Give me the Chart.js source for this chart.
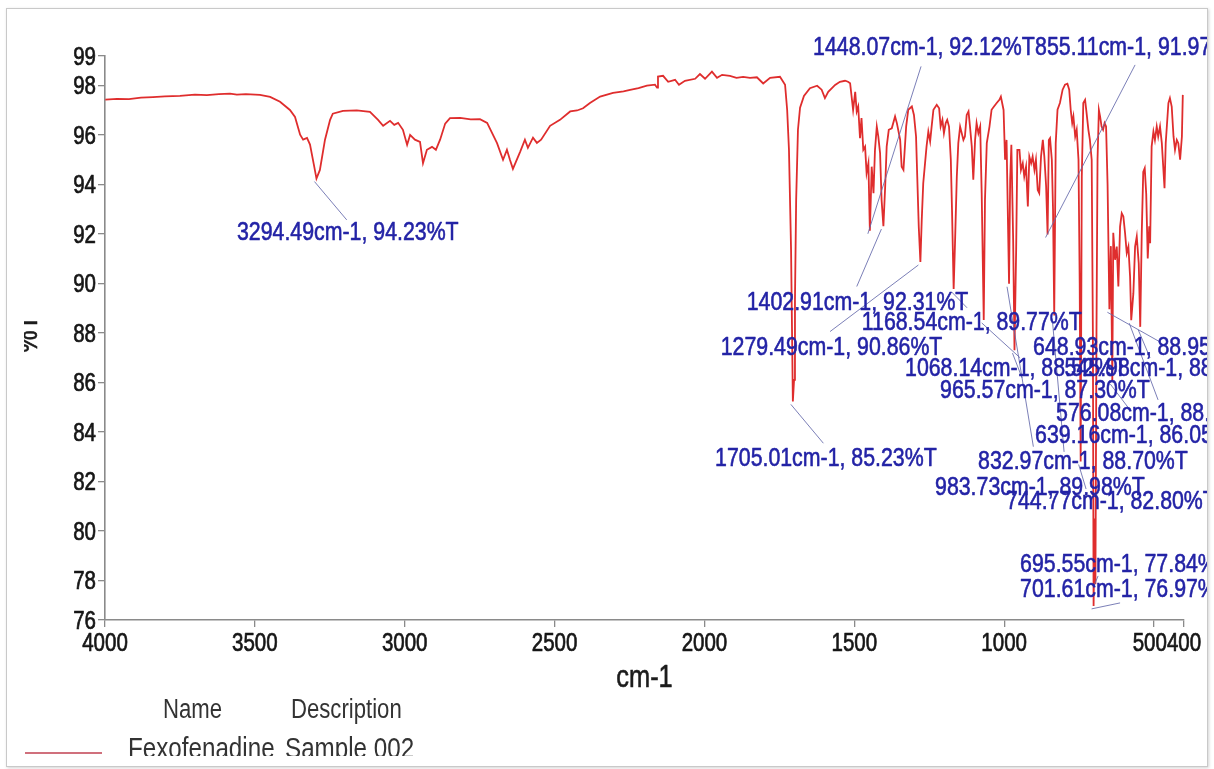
<!DOCTYPE html>
<html>
<head>
<meta charset="utf-8">
<title>Fexofenadine FTIR</title>
<script src="https://cdn.jsdelivr.net/npm/chart.js@4.4.1/dist/chart.umd.min.js"></script>
<style>
  html, body { margin: 0; padding: 0; background: #fff; width: 1214px; height: 769px; overflow: hidden; }
  #frame { position: absolute; left: 6px; top: 8px; width: 1200px; height: 757px;
           border: 1px solid #c9c9c9; box-shadow: 1px 1px 3px rgba(0,0,0,0.18); background: #fff; }
  #clip  { position: absolute; left: 0; top: 0; width: 1200px; height: 747px; overflow: hidden; }
  #plot  { position: absolute; left: -7px; top: -9px; }
</style>
</head>
<body>
<div id="frame"><div id="clip"><canvas id="plot" width="1214" height="769"></canvas></div></div>
<script>
// ---- spectrum: [wavenumber (cm-1), transmittance (%T)] ----
const highRegion = [
  [3999, 97.42], [3960, 97.45], [3920, 97.44], [3880, 97.50], [3840, 97.52], [3800, 97.55],
  [3750, 97.57], [3700, 97.62], [3660, 97.60], [3620, 97.64], [3583, 97.66], [3560, 97.62],
  [3530, 97.64], [3483, 97.61], [3449, 97.53], [3416, 97.33], [3383, 97.00], [3366, 96.72],
  [3349, 96.00], [3339, 95.80], [3326, 95.87], [3316, 95.60], [3303, 94.78], [3283, 94.58],
  [3266, 95.80], [3249, 96.60], [3240, 96.85], [3206, 96.96], [3160, 96.98], [3116, 96.92],
  [3089, 96.60], [3072, 96.36], [3049, 96.56], [3035, 96.40], [3022, 96.48], [3006, 96.20],
  [2992, 95.59], [2982, 95.99], [2966, 95.80], [2949, 95.71], [2939, 94.85], [2926, 95.39],
  [2909, 95.51], [2896, 95.39], [2882, 95.80], [2865, 96.45], [2849, 96.67], [2815, 96.68],
  [2780, 96.62], [2749, 96.63], [2725, 96.48], [2692, 95.66], [2672, 94.99], [2659, 95.39],
  [2649, 94.99], [2639, 94.62], [2615, 95.31], [2599, 95.80], [2589, 95.47], [2572, 95.88],
  [2559, 95.67], [2545, 95.80], [2515, 96.36], [2482, 96.60], [2448, 96.94], [2425, 96.98],
  [2405, 97.07], [2382, 97.28], [2348, 97.54], [2305, 97.69], [2270, 97.75], [2248, 97.81],
  [2220, 97.88], [2192, 97.98], [2165, 98.02], [2158, 97.90], [2155, 98.35], [2138, 98.38],
  [2121, 98.14], [2098, 98.22], [2085, 98.02], [2065, 98.18], [2031, 98.26], [2015, 98.45],
  [1998, 98.26], [1975, 98.55], [1958, 98.30], [1941, 98.42], [1915, 98.38], [1893, 98.30],
  [1871, 98.34], [1848, 98.30], [1825, 98.32], [1804, 98.07], [1781, 98.30], [1748, 98.34]
];
const midRegion = [
  [1731, 98.02], [1724, 97.00], [1718, 95.39], [1711, 91.35], [1701, 86.10], [1698, 89.33],
  [1694, 93.37], [1688, 96.20], [1681, 97.09], [1668, 97.57], [1648, 97.88], [1624, 97.98],
  [1609, 97.82], [1598, 97.48], [1587, 97.73], [1564, 98.01], [1548, 98.14], [1531, 98.18],
  [1521, 98.14], [1514, 98.08], [1504, 97.00], [1497, 97.73], [1492, 96.94], [1487, 97.14],
  [1481, 95.86], [1476, 96.67], [1470, 95.39], [1464, 95.52], [1459, 94.45], [1453, 94.85],
  [1445, 93.37], [1442, 94.71], [1436, 93.64], [1431, 95.39], [1425, 96.33], [1420, 95.93],
  [1414, 95.26], [1409, 93.37], [1397, 93.91], [1392, 95.52], [1385, 96.20], [1375, 96.26],
  [1364, 96.74], [1358, 96.47], [1347, 95.79], [1342, 94.71], [1336, 94.58], [1327, 96.33],
  [1320, 97.01], [1308, 97.14], [1301, 96.80], [1294, 95.93], [1290, 94.31], [1285, 92.29],
  [1275, 92.56], [1270, 94.04], [1259, 95.52], [1253, 96.13], [1247, 95.73], [1242, 96.33],
  [1236, 97.01], [1225, 97.21], [1217, 97.07], [1212, 96.33], [1206, 96.60], [1201, 96.06],
  [1195, 96.47], [1190, 96.60], [1184, 96.33], [1178, 94.99], [1174, 92.96], [1164, 91.62],
  [1158, 94.31], [1153, 95.66], [1147, 96.33], [1136, 95.79], [1131, 95.93], [1125, 96.80],
  [1119, 96.94], [1114, 96.33], [1108, 95.52], [1103, 94.18], [1097, 95.79], [1092, 96.47],
  [1086, 96.06], [1080, 96.33], [1075, 93.64], [1064, 93.37], [1058, 95.66], [1049, 96.33],
  [1042, 97.01], [1034, 97.14], [1025, 97.28], [1016, 97.41], [1011, 97.54], [1002, 97.00]
];
const lowRegion = [
  [997, 94.99], [992, 95.79], [980, 94.18], [976, 95.59], [970, 91.75], [960, 91.35],
  [956, 95.39], [949, 95.39], [944, 94.58], [938, 94.85], [933, 94.31], [927, 94.71],
  [921, 93.10], [916, 95.12], [910, 94.85], [905, 95.12], [899, 94.58], [894, 94.99],
  [888, 93.77], [883, 93.64], [877, 95.12], [871, 95.79], [866, 95.12], [860, 93.91],
  [851, 95.79], [847, 95.86], [841, 94.99], [837, 93.00], [828, 95.66], [822, 97.01],
  [814, 97.28], [805, 97.82], [797, 98.02], [789, 98.06], [783, 97.82], [778, 97.01],
  [773, 96.47], [769, 96.74], [763, 95.93], [758, 96.20], [752, 94.99], [748, 90.00],
  [741, 94.31], [736, 97.28], [730, 97.41], [725, 96.87], [719, 96.20], [714, 95.79],
  [708, 94.99], [704, 88.00], [698.5, 80.50], [692, 88.00], [688.5, 95.00], [684, 97.00],
  [680, 96.74], [675, 96.33], [670, 96.20], [665, 96.47], [660, 96.33], [655, 94.00],
  [644, 91.50], [636, 92.04], [630, 90.95], [624.3, 91.48], [619, 89.87], [613.3, 92.29],
  [607.7, 92.83], [602.3, 92.70], [596.6, 92.02], [591, 91.22], [585.5, 91.48], [579.9, 90.27],
  [568.9, 89.60], [563.2, 91.48], [557.6, 91.89], [551, 90.80], [541, 92.00], [536, 94.50],
  [531, 94.65], [526, 93.60], [521, 91.00], [516, 92.30], [513, 91.62], [508, 95.52],
  [502, 96.13], [497, 95.79], [491, 96.33], [486, 95.93], [480, 96.33], [474, 95.66],
  [465, 93.84], [461, 95.66], [458, 96.20], [452, 97.28], [447, 97.48], [441, 97.14],
  [435, 95.93], [430, 95.39], [424, 95.79], [419, 95.66], [413, 94.99], [407, 95.93],
  [404, 97.61]
];

// ---- picked peaks ----
const peakWn = [3294.49, 1705.01, 1448.07, 1402.91, 1279.49, 1168.54, 1068.14, 983.73, 965.57,
                855.11, 832.97, 744.77, 701.61, 695.55, 648.93, 639.16, 576.08, 545.98];
const peakT  = [94.23, 85.23, 92.12, 92.31, 90.86, 89.77, 88.52, 89.98, 87.30,
                91.97, 88.70, 82.80, 76.97, 77.84, 88.95, 86.05, 88.51, 88.24];
// label anchor (left edge, middle) and leader end, both in axis units
const labelAt = [[3559.6, 92.02], [1964.6, 82.89], [1637.6, 99.50], [1858.9, 89.21], [1945.6, 87.39],
                 [1475.1, 88.41], [1330.7, 86.54], [1230.6, 81.72], [1213.9, 85.66], [896.9, 99.50],
                 [1087.1, 82.80], [993.7, 81.18], [946.9, 77.61], [946.9, 78.62], [903.6, 87.39],
                 [896.9, 83.85], [826.8, 84.72], [798.5, 86.54]];
const leaderTo = [[3193.5, 92.56], [1603.3, 83.54], [1277.3, 98.76], [1491.8, 89.87], [1580.9, 88.05],
                  [1123.8, 89.01], [946.9, 86.99], [902.6, 83.40], [940.3, 86.18], [563.2, 98.82],
                  [800.1, 83.19], [726.7, 81.69], [613.3, 77.09], [686.7, 78.18], [479.8, 87.63],
                  [579.9, 84.88], [486.5, 85.29], [513.2, 86.99]];

// ---- axes ----
const xRange = [400, 4000];
const yRange = [76.40, 99.18];
const xTickValues = [4000, 3500, 3000, 2500, 2000, 1500, 1000, 500, 400];
const yTickValues = [76.40, 78, 80, 82, 84, 86, 88, 90, 92, 94, 96, 98, 99.18];
const yTickLabels = ['76', '78', '80', '82', '84', '86', '88', '90', '92', '94', '96', '98', '99'];
const xTitle = 'cm-1';
const yTitle = '%T';
const seriesName = 'Fexofenadine';
const seriesDescription = 'Sample 002';

// Arial-metric face squeezed to a narrow width
const FACE = '"Liberation Sans", Arial, sans-serif';
const SQUEEZE = 0.82;

function narrowWidth(ctx, text) { return ctx.measureText(text).width * SQUEEZE; }
function narrowText(ctx, text, x, y, align, heavy) {
  ctx.save();
  ctx.translate(x, y);
  ctx.scale(SQUEEZE, 1);
  ctx.textAlign = align;
  ctx.fillText(text, 0, 0);
  if (heavy) {
    ctx.strokeStyle = ctx.fillStyle;
    ctx.lineWidth = heavy;
    ctx.lineJoin = 'round';
    ctx.strokeText(text, 0, 0);
  }
  ctx.restore();
}

const spectrum = highRegion.concat(midRegion, lowRegion)
  .map(([w, t]) => ({ x: w, y: t }))
  .concat(peakWn.map((w, i) => ({ x: w, y: peakT[i] })))
  .sort((a, b) => b.x - a.x);

// tick labels in the narrow face, placed from the scales' own ticks
const narrowTicks = {
  id: 'narrowTicks',
  afterDraw(chart) {
    const { ctx, scales: { x, y } } = chart;
    ctx.save();
    ctx.fillStyle = '#161616';
    ctx.font = '25px ' + FACE;
    ctx.textBaseline = 'alphabetic';
    // x: centred under each tick, pushed left when it would run into its neighbour
    const items = x.ticks.map(t => {
      const w = narrowWidth(ctx, t.label);
      const c = x.getPixelForValue(t.value);
      return { label: t.label, w, c };
    });
    for (let i = items.length - 2; i >= 0; i--) {
      const next = items[i + 1];
      const limit = next.c - next.w / 2;
      if (items[i].c + items[i].w / 2 > limit) items[i].c = limit - items[i].w / 2;
    }
    items.forEach(it => narrowText(ctx, it.label, it.c, x.top + 31, 'center', 0.7));
    // y: right aligned beside the tick marks
    y.ticks.forEach(t => {
      narrowText(ctx, t.label, y.right - 9, y.getPixelForValue(t.value) + 9, 'right', 0.7);
    });
    ctx.restore();
  }
};

const peakCallouts = {
  id: 'peakCallouts',
  afterDatasetsDraw(chart) {
    const { ctx, scales: { x, y } } = chart;
    ctx.save();
    ctx.strokeStyle = 'rgba(100,104,170,0.85)';
    ctx.lineWidth = 1;
    peakWn.forEach((w, i) => {
      ctx.beginPath();
      ctx.moveTo(x.getPixelForValue(w) - 2, y.getPixelForValue(peakT[i]) + 3);
      ctx.lineTo(x.getPixelForValue(leaderTo[i][0]), y.getPixelForValue(leaderTo[i][1]));
      ctx.stroke();
    });
    ctx.font = '26px ' + FACE;
    ctx.fillStyle = '#2323a6';
    ctx.textBaseline = 'middle';
    peakWn.forEach((w, i) => {
      const text = w.toFixed(2) + 'cm-1, ' + peakT[i].toFixed(2) + '%T';
      narrowText(ctx, text, x.getPixelForValue(labelAt[i][0]), y.getPixelForValue(labelAt[i][1]), 'left', 0.6);
    });
    ctx.restore();
  }
};

const frameText = {
  id: 'frameText',
  afterDraw(chart) {
    const { ctx, chartArea } = chart;
    ctx.save();
    ctx.fillStyle = '#1c1c1c';
    ctx.textBaseline = 'alphabetic';
    // x axis title
    ctx.font = '31px ' + FACE;
    narrowText(ctx, xTitle, (chartArea.left + chartArea.right) / 2, chartArea.bottom + 67, 'center', 0.6);
    // y axis title, partly hidden behind the window edge
    ctx.save();
    ctx.beginPath();
    ctx.rect(24, 0, 60, chart.height);
    ctx.clip();
    ctx.translate(37, (chartArea.top + chartArea.bottom) / 2 + 15);
    ctx.rotate(-Math.PI / 2);
    narrowText(ctx, yTitle, 0, 0, 'left', 0.6);
    ctx.restore();
    // legend table
    ctx.fillStyle = '#333';
    ctx.font = '27px ' + FACE;
    narrowText(ctx, 'Name', 163, chartArea.bottom + 98, 'left');
    narrowText(ctx, 'Description', 291, chartArea.bottom + 98, 'left');
    ctx.font = '29.5px ' + FACE;
    narrowText(ctx, seriesName, 128, chartArea.bottom + 138, 'left');
    narrowText(ctx, seriesDescription, 285, chartArea.bottom + 138, 'left');
    ctx.strokeStyle = '#d0707c';
    ctx.lineWidth = 2;
    ctx.beginPath();
    ctx.moveTo(25, chartArea.bottom + 133);
    ctx.lineTo(102, chartArea.bottom + 133);
    ctx.stroke();
    ctx.restore();
  }
};

new Chart(document.getElementById('plot'), {
  type: 'line',
  data: {
    datasets: [{
      label: seriesName,
      data: spectrum,
      borderColor: '#df2d2d',
      borderWidth: 1.8,
      pointRadius: 0,
      tension: 0,
      fill: false
    }]
  },
  options: {
    responsive: false,
    animation: false,
    devicePixelRatio: 1,
    layout: { padding: { left: 0, top: 56, right: 30, bottom: 0 } },
    plugins: { legend: { display: false }, tooltip: { enabled: false } },
    scales: {
      x: {
        type: 'linear',
        reverse: true,
        min: xRange[0],
        max: xRange[1],
        afterBuildTicks: s => { s.ticks = xTickValues.map(v => ({ value: v })); },
        afterFit: s => { s.height = 149; },
        ticks: { display: false, autoSkip: false, maxRotation: 0, callback: v => String(v) },
        grid: { drawOnChartArea: false, drawTicks: true, tickLength: 7, color: '#8a8a8a', lineWidth: 1.3 },
        border: { display: true, color: '#8a8a8a', width: 1.6 }
      },
      y: {
        type: 'linear',
        min: yRange[0],
        max: yRange[1],
        afterBuildTicks: s => { s.ticks = yTickValues.map(v => ({ value: v })); },
        afterFit: s => { s.width = 105; },
        ticks: { display: false, autoSkip: false, callback: (v, i) => yTickLabels[i] },
        grid: { drawOnChartArea: false, drawTicks: true, tickLength: 7, color: '#8a8a8a', lineWidth: 1.3 },
        border: { display: true, color: '#8a8a8a', width: 1.6 }
      }
    }
  },
  plugins: [peakCallouts, narrowTicks, frameText]
});
</script>
</body>
</html>
